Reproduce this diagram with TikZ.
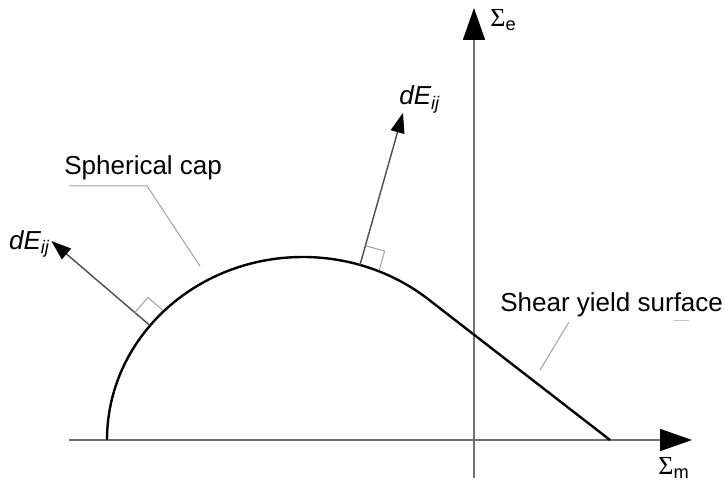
\documentclass[tikz,border=0pt]{standalone}
\usepackage{fontspec}
\setmainfont{Liberation Sans}
\newfontfamily\sigmafont{Liberation Serif}
\usetikzlibrary{arrows.meta,calc}
\definecolor{axisgray}{HTML}{707070}
\definecolor{leadgray}{HTML}{A0A0A0}
\tikzset{
  axisline/.style={axisgray,line width=0.8pt,-{Triangle[length=16pt,width=11pt,color=black]}},
  yieldline/.style={line width=1.2pt,line join=round},
  normalvec/.style={black!70,line width=0.7pt,-{Triangle[length=10pt,width=7pt,color=black]}},
  leader/.style={leadgray,line width=0.5pt},
  rightmark/.style={leadgray,line width=0.5pt},
  lbl/.style={font=\fontsize{13}{15}\selectfont,inner sep=0pt}
}

\begin{document}
\begin{tikzpicture}[x=0.5pt,y=0.5pt]
  \useasboundingbox (0,0) rectangle (725,498);
  \coordinate (C) at (303,58);
  \coordinate (xstart) at (69,58);
  \coordinate (xend) at (692,58);
  \coordinate (ystart) at (474,20);
  \coordinate (yend) at (474,490);
  \draw[axisline] (xstart) -- (xend);
  \draw[axisline] (ystart) -- (yend);
  \node[lbl,anchor=base west] (sigE) at (490,471) {{\sigmafont Σ}\textsubscript{e}};
  \node[lbl,anchor=base west] (sigM) at (658,23) {{\sigmafont Σ}\textsubscript{m}};
  \coordinate (capStart) at ($(C)+(180:196 and 183)$);
  \coordinate (shearEnd) at (610,58);
  \draw[yieldline] (capStart)
    arc[start angle=180,end angle=50.4,x radius=196,y radius=183] -- (shearEnd);
  \coordinate (footL) at ($(C)+(141.3:196 and 183)$);
  \coordinate (footU) at ($(C)+(73.1:196 and 183)$);
  \coordinate (tipL) at ($(footL)+(139.4:130)$);
  \coordinate (tipU) at ($(footU)+(74.2:158)$);
  \draw[normalvec] (footL) -- (tipL);
  \draw[normalvec] (footU) -- (tipU);
  \draw[rightmark] ($(footL)+(139.4:20)$) -- ++(49.4:20) -- ++(-40.6:20);
  \draw[rightmark] ($(footU)+(74.2:20)$) -- ++(-15.8:20) -- ++(-105.8:20);
  \node[lbl,anchor=east] (dEL) at ($(tipL)+(-1,-3)$) {\itshape dE\textsubscript{ij}};
  \node[lbl,anchor=base west] (dEU) at (399,393) {\itshape dE\textsubscript{ij}};
  \node[lbl,anchor=base west] (capLbl) at (64,323) {Spherical cap};
  \coordinate (capA) at (69,312);
  \coordinate (capB) at (147,312);
  \coordinate (capC) at (200,232);
  \draw[leader] (capA) -- (capB) -- (capC);
  \node[lbl,anchor=base west] (shearLbl) at (500,186) {Shear yield surface};
  \coordinate (shearA) at (569,176);
  \coordinate (shearB) at (540,128);
  \draw[leader] (shearA) -- (shearB);
  \draw[leadgray!60,line width=0.5pt] (673,177) -- (689,177);
\end{tikzpicture}
\end{document}
